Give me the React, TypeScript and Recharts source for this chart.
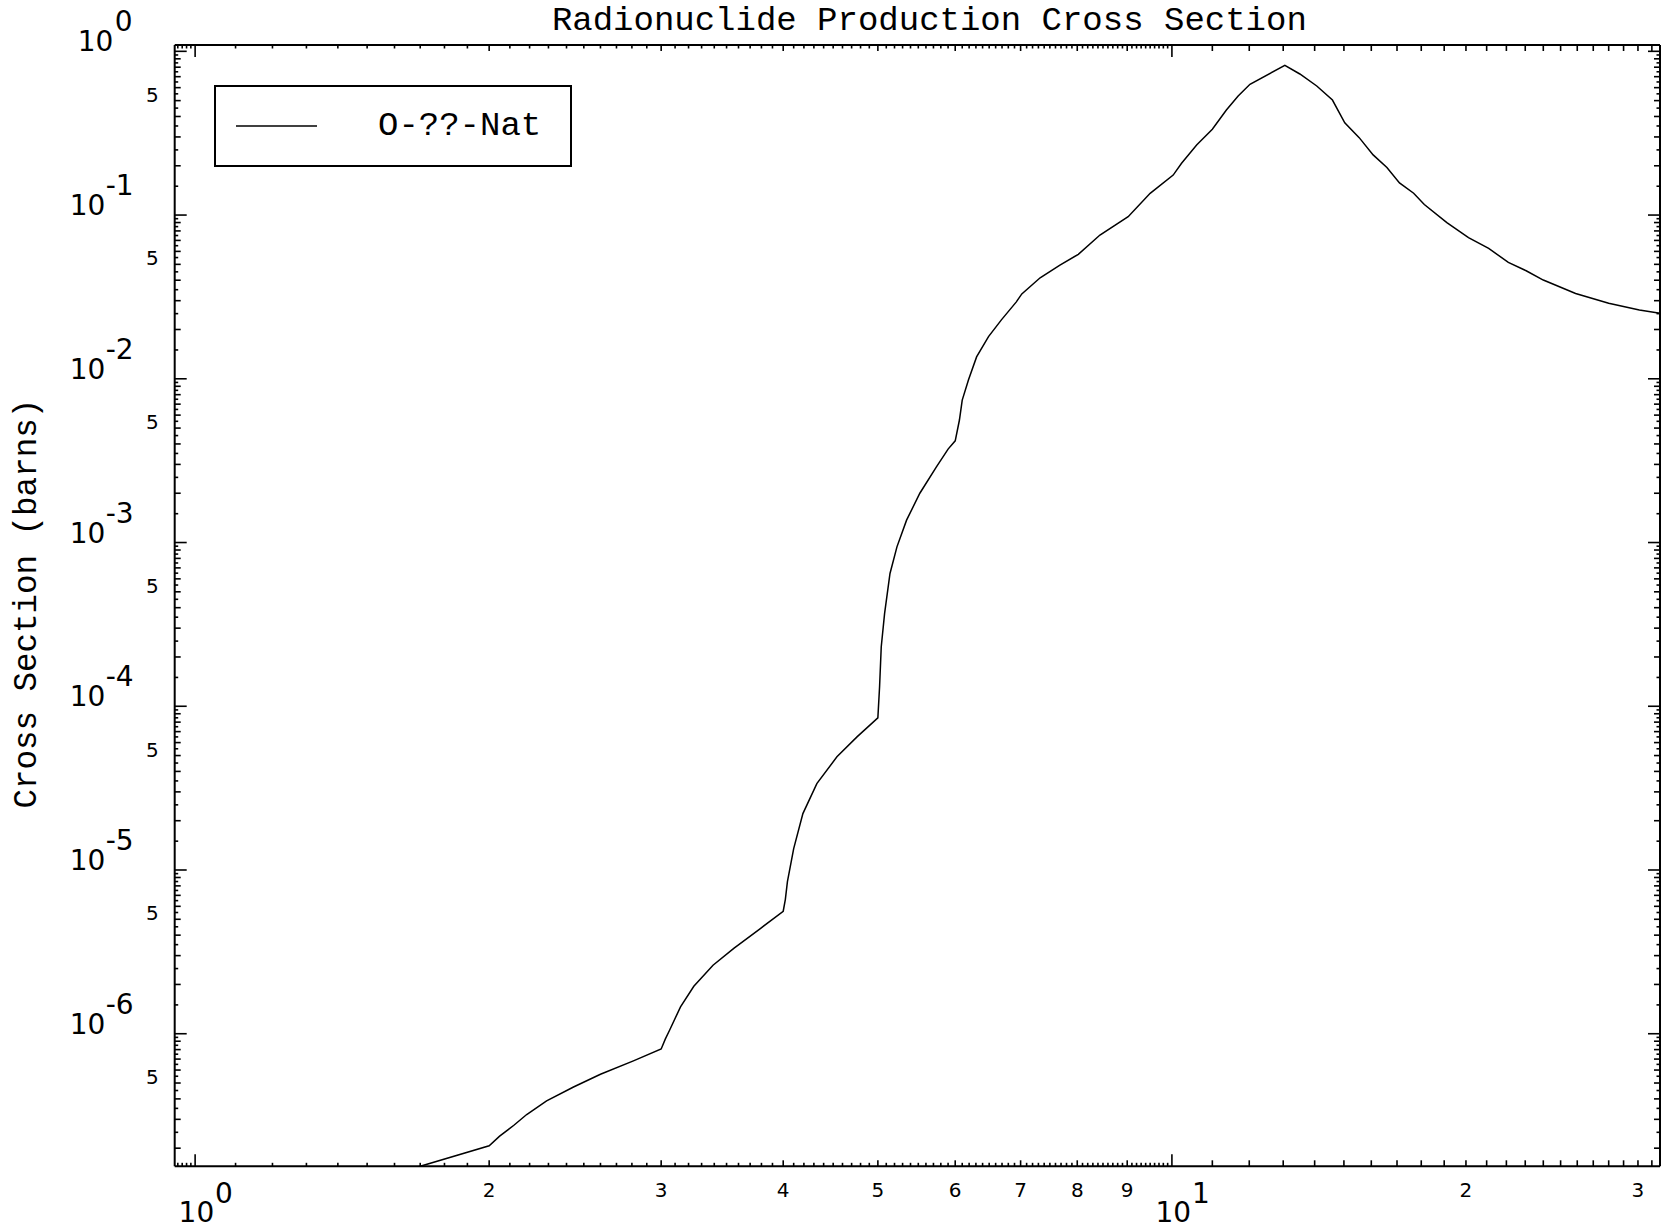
import React from 'react';
import { LineChart, Line, XAxis, YAxis, Legend } from 'recharts';

// ---------- text ----------
const TITLE = 'Radionuclide Production Cross Section';
const Y_LABEL = 'Cross Section (barns)';
const SERIES_NAME = 'O-??-Nat';

// ---------- series (energy in MeV, cross section in barns) ----------
const energy = [
  1.5, 1.7, 2.0, 2.05, 2.12, 2.185, 2.29, 2.44, 2.6, 2.81,
  3.0, 3.03, 3.06, 3.14, 3.24, 3.39, 3.56, 3.79,
  4.0, 4.02, 4.04, 4.1, 4.19, 4.33, 4.54, 4.76,
  5.0, 5.02, 5.04, 5.08, 5.145, 5.23, 5.35, 5.52, 5.74, 5.9,
  6.0, 6.06, 6.1, 6.19, 6.31, 6.49, 6.69, 6.93,
  7.02, 7.33, 7.68, 8.02, 8.44, 9.02, 9.5,
  10.03, 10.23, 10.6, 11.0, 11.37, 11.69, 12.02, 13.05,
  13.52, 14.07, 14.6, 15.03, 15.55, 16.07, 16.6, 17.1, 17.68, 18.13, 19.12,
  20.12, 21.1, 22.1, 23.05, 24.0, 25.9, 28.0, 30.1, 31.6, 32.5,
];
const crossSection = [
  1.24e-7, 1.55e-7, 2.07e-7, 2.37e-7, 2.76e-7, 3.21e-7, 3.89e-7, 4.73e-7, 5.66e-7, 6.83e-7,
  8.07e-7, 9.3e-7, 1.05e-6, 1.46e-6, 1.95e-6, 2.62e-6, 3.32e-6, 4.39e-6,
  5.6e-6, 6.6e-6, 8.5e-6, 1.35e-5, 2.21e-5, 3.37e-5, 4.91e-5, 6.5e-5,
  8.5e-5, 1.31e-4, 2.31e-4, 3.69e-4, 6.47e-4, 9.41e-4, 1.37e-3, 2.0e-3, 2.9e-3, 3.72e-3,
  4.18e-3, 5.6e-3, 7.41e-3, 9.82e-3, 1.36e-2, 1.81e-2, 2.29e-2, 2.95e-2,
  3.3e-2, 4.14e-2, 4.95e-2, 5.76e-2, 7.55e-2, 9.77e-2, 0.1357,
  0.1755, 0.207, 0.268, 0.334, 0.438, 0.533, 0.629, 0.821,
  0.727, 0.614, 0.504, 0.366, 0.297, 0.233, 0.195, 0.157, 0.136, 0.116, 0.0898,
  0.0727, 0.0626, 0.0514, 0.0457, 0.0401, 0.0332, 0.0289, 0.0263, 0.0251, 0.0245,
];

// ---------- axes ----------
const X_DOMAIN = [0.953, 31.6];
const Y_DOMAIN = [1.55e-7, 1.093];

const X_TICKS_BELOW_ONE = [0.96, 0.97, 0.98, 0.99];
const X_LABEL_VALUES = [1, 2, 3, 4, 5, 6, 7, 8, 9, 10, 20, 30];
const X_LABEL_TEXTS = ['10^0', '2', '3', '4', '5', '6', '7', '8', '9', '10^1', '2', '3'];

const Y_DECADES = [-7, -6, -5, -4, -3, -2, -1, 0];
const Y_LABEL_VALUES = [1, 1e-1, 1e-2, 1e-3, 1e-4, 1e-5, 1e-6, 5e-1, 5e-2, 5e-3, 5e-4, 5e-5, 5e-6, 5e-7];
const Y_LABEL_TEXTS = ['10^0', '10^-1', '10^-2', '10^-3', '10^-4', '10^-5', '10^-6', '5', '5', '5', '5', '5', '5', '5'];

const data = energy.map((x, i) => ({ x, y: crossSection[i] }));

const xTicks: number[] = [...X_TICKS_BELOW_ONE];
for (let i = 10; i <= 100; i++) xTicks.push(i / 10);
for (let j = 11; j <= 31; j++) xTicks.push(j);

const yTicks: number[] = [];
Y_DECADES.forEach((e) => {
  for (let h = 2; h <= 19; h++) {
    const v = (h / 2) * Math.pow(10, e);
    if (v >= Y_DOMAIN[0] && v <= Y_DOMAIN[1]) yTicks.push(v);
  }
});

const same = (a: number, b: number) => Math.abs(a / b - 1) < 1e-6;

function xKind(v: number) {
  const r = Math.round(v * 100) / 100;
  if (r === 1 || r === 10) return 'major';
  if (Number.isInteger(r)) return 'medium';
  return 'minor';
}
function yKind(v: number) {
  const e = Math.floor(Math.log10(v) + 1e-9);
  const m = Math.round((v / Math.pow(10, e)) * 2) / 2;
  if (m === 1) return 'major';
  if (Number.isInteger(m)) return 'medium';
  return 'minor';
}
const lenOf = (k: string) => (k === 'major' ? 12 : k === 'medium' ? 6 : 3.5);

const TICK_FONT = 'DejaVu Sans, Verdana, sans-serif';
const MONO_FONT = 'Liberation Mono, Courier New, monospace';
const TICK_W = 1.6;

function xLabel(v: number) {
  const i = X_LABEL_VALUES.findIndex((t) => same(t, v));
  return i >= 0 ? X_LABEL_TEXTS[i] : null;
}
function yLabel(v: number) {
  const i = Y_LABEL_VALUES.findIndex((t) => same(t, v));
  return i >= 0 ? Y_LABEL_TEXTS[i] : null;
}

function BottomTick(props: any) {
  const { x, y, payload } = props;
  const v = payload.value;
  const len = lenOf(xKind(v));
  const lab = xLabel(v);
  let label: React.ReactNode = null;
  if (lab && lab.includes('^')) {
    const [base, exp] = lab.split('^');
    label = (
      <text x={x - 16.5} y={y + 56} textAnchor="start" fontSize={28} fontFamily={TICK_FONT} fill="#000">
        {base}
        <tspan x={x + 20} dy={-19}>{exp}</tspan>
      </text>
    );
  } else if (lab) {
    label = (
      <text x={x} y={y + 31} textAnchor="middle" fontSize={20} fontFamily={TICK_FONT} fill="#000">{lab}</text>
    );
  }
  return (
    <g>
      <line x1={x} x2={x} y1={y} y2={y - len} stroke="#000" strokeWidth={TICK_W} />
      {label}
    </g>
  );
}

function TopTick(props: any) {
  const { x, y, payload } = props;
  const len = lenOf(xKind(payload.value));
  return <line x1={x} x2={x} y1={y} y2={y + len} stroke="#000" strokeWidth={TICK_W} />;
}

function LeftTick(props: any) {
  const { x, y, payload } = props;
  const v = payload.value;
  const len = lenOf(yKind(v));
  const lab = yLabel(v);
  let label: React.ReactNode = null;
  if (lab && lab.includes('^')) {
    const [base, exp] = lab.split('^');
    const neg = exp.startsWith('-');
    label = neg ? (
      <text x={x - 105} y={y} textAnchor="start" fontSize={28} fontFamily={TICK_FONT} fill="#000">
        {base}
        <tspan x={x - 69} dy={-20}>{exp}</tspan>
      </text>
    ) : (
      <text x={x - 97} y={y} textAnchor="start" fontSize={28} fontFamily={TICK_FONT} fill="#000">
        {base}
        <tspan x={x - 60} dy={-20}>{exp}</tspan>
      </text>
    );
  } else if (lab) {
    label = (
      <text x={x - 16} y={y + 1} textAnchor="end" fontSize={20} fontFamily={TICK_FONT} fill="#000">{lab}</text>
    );
  }
  return (
    <g>
      <line x1={x} x2={x + len} y1={y} y2={y} stroke="#000" strokeWidth={TICK_W} />
      {label}
    </g>
  );
}

function RightTick(props: any) {
  const { x, y, payload } = props;
  const len = lenOf(yKind(payload.value));
  return <line x1={x} x2={x - len} y1={y} y2={y} stroke="#000" strokeWidth={TICK_W} />;
}

function TitleLabel(props: any) {
  const vb = props.viewBox || { x: 0, y: 0, width: 0, height: 0 };
  return (
    <text x={vb.x + vb.width / 2 + 12} y={vb.y + (vb.height || 0) - 15} textAnchor="middle" fontFamily={MONO_FONT} fontSize={34} fill="#000">
      {TITLE}
    </text>
  );
}

function YTitleLabel(props: any) {
  const vb = props.viewBox || { x: 0, y: 0, width: 0, height: 0 };
  const cx = vb.x + (vb.width || 0) - 139;
  const cy = vb.y + vb.height / 2 - 2;
  return (
    <text x={cx} y={cy} transform={`rotate(-90, ${cx}, ${cy})`} textAnchor="middle" fontFamily={MONO_FONT} fontSize={32.5} fill="#000">
      {Y_LABEL}
    </text>
  );
}

function LegendBox(props: any) {
  const payload = props.payload || [];
  const name = payload.length ? payload[0].value : SERIES_NAME;
  return (
    <svg width={358} height={82} style={{ display: 'block' }}>
      <rect x={1} y={1} width={356} height={80} fill="#fff" stroke="#000" strokeWidth={2} />
      <line x1={22} x2={103} y1={41} y2={41} stroke="#000" strokeWidth={1.5} />
      <text x={164} y={50} fontFamily={MONO_FONT} fontSize={34} fill="#000">{name}</text>
    </svg>
  );
}

const axisLine = { stroke: '#000', strokeWidth: 2 };

export default function App() {
  return (
    <div style={{ position: 'absolute', left: 0, top: 0, width: 1665, height: 1231, background: '#fff' }}>
      <LineChart
        width={1665}
        height={1231}
        data={data}
        margin={{ top: 44, left: 173.7, right: 4, bottom: 63.7 }}
      >
        <XAxis
          xAxisId="b"
          dataKey="x"
          type="number"
          scale="log"
          domain={X_DOMAIN}
          allowDataOverflow
          ticks={xTicks}
          interval={0}
          height={1}
          tickSize={0}
          tickMargin={0}
          tickLine={false}
          axisLine={axisLine}
          tick={BottomTick}
          orientation="bottom"
        />
        <XAxis
          xAxisId="t"
          dataKey="x"
          type="number"
          scale="log"
          domain={X_DOMAIN}
          allowDataOverflow
          ticks={xTicks}
          interval={0}
          height={1}
          tickSize={0}
          tickMargin={0}
          tickLine={false}
          axisLine={axisLine}
          tick={TopTick}
          orientation="top"
          label={{ content: TitleLabel }}
        />
        <YAxis
          yAxisId="l"
          type="number"
          scale="log"
          domain={Y_DOMAIN}
          allowDataOverflow
          ticks={yTicks}
          interval={0}
          width={1}
          tickSize={0}
          tickMargin={0}
          tickLine={false}
          axisLine={axisLine}
          tick={LeftTick}
          orientation="left"
          label={{ content: YTitleLabel }}
        />
        <YAxis
          yAxisId="r"
          type="number"
          scale="log"
          domain={Y_DOMAIN}
          allowDataOverflow
          ticks={yTicks}
          interval={0}
          width={1}
          tickSize={0}
          tickMargin={0}
          tickLine={false}
          axisLine={axisLine}
          tick={RightTick}
          orientation="right"
        />
        <Legend
          layout="horizontal"
          verticalAlign="middle"
          align="center"
          wrapperStyle={{ left: 214, top: 85, width: 358, height: 82 }}
          content={LegendBox}
        />
        <Line
          xAxisId="b"
          yAxisId="l"
          dataKey="y"
          name={SERIES_NAME}
          type="linear"
          stroke="#000"
          strokeWidth={1.5}
          dot={false}
          activeDot={false}
          isAnimationActive={false}
        />
      </LineChart>
    </div>
  );
}
